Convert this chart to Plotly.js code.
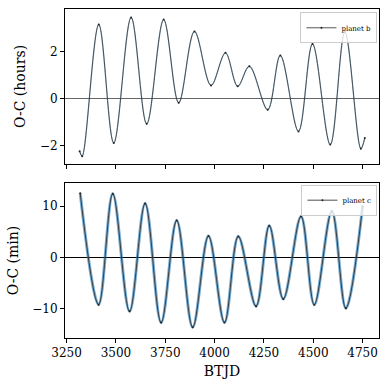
<!DOCTYPE html>
<html>
<head>
<meta charset="utf-8">
<script src="https://cdn.plot.ly/plotly-3.0.1.min.js"></script>
<style>
  html, body { margin: 0; padding: 0; background: #fff; }
  #plot { width: 390px; height: 390px; }
</style>
</head>
<body>
<div id="plot"></div>
<script>
// planet b, O-C in hours (turning points)
var bTime = [3316, 3329, 3413, 3489, 3577, 3656, 3742, 3818, 3898, 3982, 4055, 4117,
             4176, 4269, 4333, 4425, 4496, 4586, 4660, 4741, 4761];
var bOC   = [-2.23, -2.44, 3.14, -1.88, 3.44, -1.07, 3.35, -0.18, 2.85, 0.56, 1.94, 0.52,
             1.37, -0.47, 1.83, -1.39, 2.32, -1.95, 2.83, -2.12, -1.67];

// planet c, O-C in minutes
var cTime = [3319, 3412, 3484, 3569, 3648, 3729, 3808, 3889, 3969, 4050, 4120, 4210,
             4277, 4348, 4438, 4505, 4594, 4665, 4750];
var cOC   = [12.5, -9.2, 12.4, -10.5, 10.5, -12.7, 7.2, -13.6, 4.2, -12.7, 4.1, -9.5,
             6.2, -8.1, 8.0, -9.2, 9.0, -9.9, 10.0];

var xTicks = [3250, 3500, 3750, 4000, 4250, 4500, 4750];

var font = 'DejaVu Serif, serif';

var bandB = {
  x: bTime, y: bOC, xaxis: 'x', yaxis: 'y',
  mode: 'lines', showlegend: false, hoverinfo: 'skip',
  line: {color: 'rgba(31,119,180,0.35)', width: 1.4, shape: 'spline', smoothing: 1}
};
var lineB = {
  x: bTime, y: bOC, xaxis: 'x', yaxis: 'y',
  mode: 'lines+markers', name: 'planet b', legend: 'legend',
  marker: {color: '#222', size: 2},
  line: {color: '#2a2a2a', width: 0.8, shape: 'spline', smoothing: 1}
};
var bandC = {
  x: cTime, y: cOC, xaxis: 'x2', yaxis: 'y2',
  mode: 'lines', showlegend: false, hoverinfo: 'skip',
  line: {color: 'rgba(31,119,180,0.6)', width: 3, shape: 'spline', smoothing: 1}
};
var lineC = {
  x: cTime, y: cOC, xaxis: 'x2', yaxis: 'y2',
  mode: 'lines+markers', name: 'planet c', legend: 'legend2',
  marker: {color: '#222', size: 2},
  line: {color: '#222', width: 0.8, shape: 'spline', smoothing: 1}
};

var axisCommon = {
  showline: true, mirror: true, linecolor: '#000', linewidth: 1,
  ticks: 'outside', ticklen: 4, tickcolor: '#000', showgrid: false,
  tickfont: {family: font, size: 12, color: '#000'}
};

var legendCommon = {
  xanchor: 'right', yanchor: 'top',
  bgcolor: 'rgba(255,255,255,0.8)', bordercolor: '#ccc', borderwidth: 1,
  font: {family: font, size: 7, color: '#000'}, itemwidth: 30,
  tracegroupgap: 0
};

var layout = {
  width: 390, height: 390,
  margin: {l: 65, r: 11, t: 9, b: 52},
  paper_bgcolor: '#fff', plot_bgcolor: '#fff',
  font: {family: font, color: '#000'},
  xaxis: Object.assign({}, axisCommon, {
    domain: [0, 1], anchor: 'y', matches: 'x2', showticklabels: false,
    range: [3242, 4833], tickvals: xTicks, zeroline: false
  }),
  yaxis: Object.assign({}, axisCommon, {
    domain: [0.529, 1], anchor: 'x', range: [-2.77, 3.8], dtick: 2,
    zeroline: true, zerolinecolor: '#666', zerolinewidth: 1.5,
    title: {text: 'O-C (hours)', font: {family: font, size: 14}, standoff: 10}
  }),
  xaxis2: Object.assign({}, axisCommon, {
    domain: [0, 1], anchor: 'y2', range: [3242, 4833], tickvals: xTicks, zeroline: false,
    title: {text: 'BTJD', font: {family: font, size: 14}, standoff: 6}
  }),
  yaxis2: Object.assign({}, axisCommon, {
    domain: [0, 0.471], anchor: 'x2', range: [-15.7, 14.5], dtick: 10,
    zeroline: true, zerolinecolor: '#000', zerolinewidth: 1,
    title: {text: 'O-C (min)', font: {family: font, size: 14}, standoff: 10}
  }),
  legend: Object.assign({}, legendCommon, {x: 0.995, y: 0.99}),
  legend2: Object.assign({}, legendCommon, {x: 0.995, y: 0.466})
};

Plotly.newPlot('plot', [bandB, lineB, bandC, lineC], layout, {displayModeBar: false, staticPlot: true});
</script>
</body>
</html>
